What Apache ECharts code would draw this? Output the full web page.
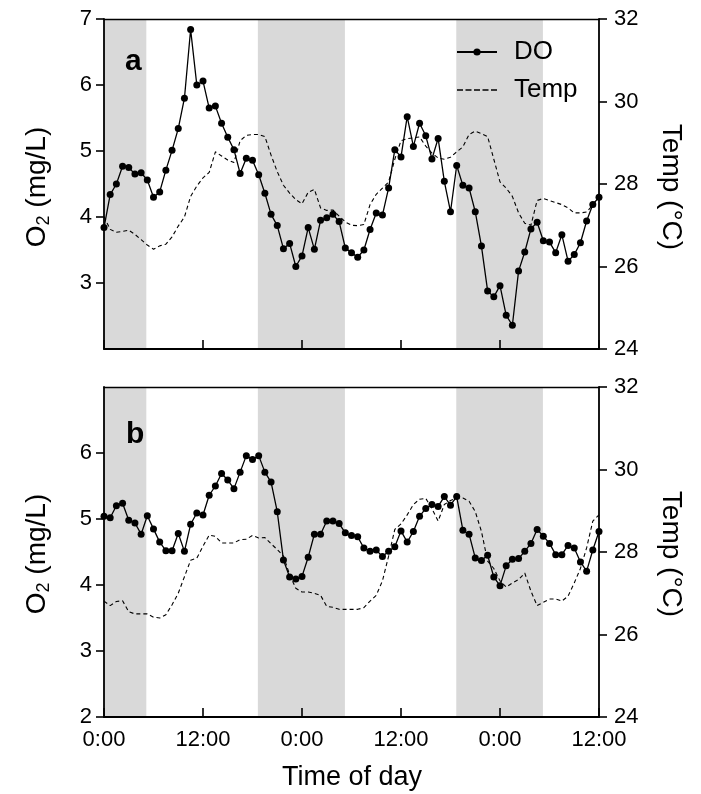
<!DOCTYPE html>
<html><head><meta charset="utf-8">
<script src="https://cdn.jsdelivr.net/npm/echarts@6/dist/echarts.min.js"></script>
<style>html,body{margin:0;padding:0;background:#fff}#c{width:701px;height:794px}</style>
</head><body><div id="c"></div>
<script>
// time of each sample, hours from start (0:00)
const hours = [0,0.75,1.5,2.25,3,3.75,4.5,5.25,6,6.75,7.5,8.25,9,9.75,10.5,11.25,12,12.75,13.5,14.25,15,15.75,16.5,17.25,18,18.75,19.5,20.25,21,21.75,22.5,23.25,24,24.75,25.5,26.25,27,27.75,28.5,29.25,30,30.75,31.5,32.25,33,33.75,34.5,35.25,36,36.75,37.5,38.25,39,39.75,40.5,41.25,42,42.75,43.5,44.25,45,45.75,46.5,47.25,48,48.75,49.5,50.25,51,51.75,52.5,53.25,54,54.75,55.5,56.25,57,57.75,58.5,59.25,60];

// panel a
const doA = [3.84,4.34,4.50,4.77,4.75,4.65,4.67,4.56,4.30,4.38,
  4.71,5.01,5.34,5.80,6.84,6.00,6.06,5.65,5.68,5.42,
  5.21,5.02,4.66,4.89,4.86,4.64,4.36,4.04,3.87,3.52,
  3.60,3.25,3.41,3.84,3.51,3.95,3.99,4.04,3.93,3.53,
  3.46,3.39,3.50,3.81,4.06,4.03,4.44,5.02,4.91,5.52,
  5.07,5.42,5.23,4.88,5.19,4.54,4.08,4.78,4.48,4.44,
  4.08,3.56,2.88,2.79,2.96,2.51,2.36,3.18,3.47,3.82,
  3.92,3.64,3.62,3.46,3.73,3.33,3.43,3.61,3.94,4.19,4.30];
const tempA = [27.21,26.90,26.83,26.85,26.88,26.78,26.65,26.52,26.42,26.50,
  26.54,26.72,26.98,27.20,27.70,27.95,28.15,28.28,28.78,28.68,
  28.58,28.52,29.05,29.18,29.20,29.20,29.15,28.70,28.30,27.97,
  27.78,27.62,27.52,27.80,27.87,27.42,27.36,27.37,27.22,27.08,
  27.00,26.99,27.02,27.50,27.75,27.90,28.05,28.60,29.05,29.10,
  29.12,29.14,28.92,28.75,28.63,28.60,28.65,28.78,28.90,29.20,
  29.28,29.22,29.15,28.60,28.05,27.90,27.70,27.30,27.05,27.00,
  27.60,27.65,27.60,27.55,27.50,27.42,27.30,27.30,27.32,27.49,27.69];

// panel b
const doB = [5.04,5.02,5.20,5.24,4.98,4.94,4.77,5.05,4.85,4.65,
  4.52,4.52,4.78,4.51,4.92,5.09,5.06,5.36,5.50,5.69,
  5.59,5.46,5.71,5.96,5.90,5.96,5.71,5.56,5.11,4.38,
  4.12,4.09,4.13,4.42,4.77,4.77,4.97,4.97,4.93,4.79,
  4.75,4.73,4.56,4.51,4.53,4.43,4.51,4.58,4.82,4.65,
  4.81,5.04,5.16,5.22,5.19,5.34,5.21,5.34,4.83,4.77,
  4.41,4.37,4.45,4.12,3.99,4.29,4.39,4.40,4.51,4.63,
  4.84,4.74,4.63,4.46,4.46,4.60,4.56,4.35,4.21,4.53,4.81];
const tempB = [26.81,26.70,26.80,26.82,26.55,26.50,26.50,26.50,26.42,26.40,
  26.48,26.72,27.00,27.40,27.80,27.85,28.14,28.41,28.38,28.22,
  28.22,28.22,28.30,28.31,28.40,28.34,28.35,28.20,28.06,27.90,
  27.45,27.12,27.03,27.03,27.00,26.95,26.68,26.66,26.61,26.61,
  26.61,26.61,26.65,26.81,26.95,27.30,27.90,28.55,28.68,28.90,
  29.15,29.28,29.30,29.05,28.75,29.15,29.25,29.31,29.31,29.23,
  28.98,28.50,27.78,27.60,27.30,27.15,27.25,27.33,27.49,27.05,
  26.70,26.78,26.86,26.86,26.81,26.93,27.25,27.60,28.10,28.75,28.90];

// night periods (hours)
const nightStart = [0, 18.65, 42.7];
const nightEnd = [5.13, 29.2, 53.2];

// ticks
const xTicks = [0, 12, 24, 36, 48, 60];
const xTickLabels = ['0:00', '12:00', '0:00', '12:00', '0:00', '12:00'];
const o2TicksA = [3, 4, 5, 6, 7];
const o2TicksB = [2, 3, 4, 5, 6];
const tempTicks = [24, 26, 28, 30, 32];

const FONT = "'Liberation Sans', Arial, Helvetica, sans-serif";
const BLACK = '#000';
// dashed legend icon for the temperature series
const DASH_ICON = 'path://M0,0h6v1.5h-6z M8.5,0h6v1.5h-6z M17,0h6v1.5h-6z M25.5,0h6v1.5h-6z M34,0h6v1.5h-6z';

const chart = echarts.init(document.getElementById('c'), null, {renderer: 'canvas'});

function bottomX(grid, showLabels) {
  return {
    gridIndex: grid, type: 'value', min: 0, max: 60, interval: 12, position: 'bottom', z: 3,
    axisLine: {show: true, onZero: false, lineStyle: {color: BLACK, width: 1.8}},
    axisTick: {show: true, inside: true, length: 9, lineStyle: {color: BLACK, width: 1.6}},
    axisLabel: {show: showLabels, fontSize: 22, fontFamily: FONT, color: BLACK, margin: 12,
      formatter: v => { const k = xTicks.indexOf(v); return k >= 0 ? xTickLabels[k] : ''; }},
    splitLine: {show: false}
  };
}
function topX(grid) {
  return {
    gridIndex: grid, type: 'value', min: 0, max: 60, position: 'top', z: 3,
    axisLine: {show: true, onZero: false, lineStyle: {color: BLACK, width: 1.3}},
    axisTick: {show: false}, axisLabel: {show: false}, splitLine: {show: false}
  };
}
function leftY(grid, ticks) {
  return {
    gridIndex: grid, type: 'value', min: 2, max: 7, interval: 1, position: 'left', z: 3,
    axisLine: {show: true, onZero: false, lineStyle: {color: BLACK, width: 1.8}},
    axisTick: {show: true, length: 8, customValues: ticks, lineStyle: {color: BLACK, width: 1.6}},
    axisLabel: {customValues: ticks, fontSize: 22, fontFamily: FONT, color: BLACK, margin: 12},
    splitLine: {show: false}
  };
}
function rightY(grid) {
  return {
    gridIndex: grid, type: 'value', min: 24, max: 32, interval: 2, position: 'right', z: 3,
    axisLine: {show: true, onZero: false, lineStyle: {color: BLACK, width: 1.8}},
    axisTick: {show: true, length: 8, customValues: tempTicks, lineStyle: {color: BLACK, width: 1.6}},
    axisLabel: {customValues: tempTicks, fontSize: 22, fontFamily: FONT, color: BLACK, margin: 15},
    splitLine: {show: false}
  };
}
function doSeries(xi, yi, vals) {
  return {
    name: 'DO', type: 'line', xAxisIndex: xi, yAxisIndex: yi, z: 4,
    data: hours.map((h, k) => [h, vals[k]]),
    symbol: 'circle', symbolSize: 7, showAllSymbol: true,
    lineStyle: {color: BLACK, width: 1.3}, itemStyle: {color: BLACK},
    animation: false,
    markArea: {silent: true, itemStyle: {color: '#d9d9d9'},
      data: nightStart.map((s, k) => [{xAxis: s}, {xAxis: nightEnd[k]}])}
  };
}
function tempSeries(xi, yi, vals) {
  return {
    name: 'Temp', type: 'line', xAxisIndex: xi, yAxisIndex: yi, z: 4,
    data: hours.map((h, k) => [h, vals[k]]),
    symbol: 'none', lineStyle: {color: BLACK, width: 1.1, type: [4, 3]},
    itemStyle: {color: BLACK}, animation: false
  };
}

function leftTitle(y) {
  return {type: 'text', x: 37, y: y, rotation: Math.PI / 2, z: 10,
    style: {text: '{a|O}{s|2}{a| (mg/L)}', align: 'center', verticalAlign: 'middle',
      rich: {a: {fontSize: 28, fontFamily: FONT, fill: BLACK, color: BLACK},
             s: {fontSize: 18, fontFamily: FONT, fill: BLACK, color: BLACK, padding: [15, 0, 0, 0]}}}};
}
function rightTitle(y) {
  return {type: 'text', x: 671, y: y, rotation: -Math.PI / 2, z: 10,
    style: {text: 'Temp (°C)', align: 'center', verticalAlign: 'middle',
      font: '28px ' + FONT, fill: BLACK}};
}

chart.setOption({
  animation: false,
  backgroundColor: '#fff',
  grid: [
    {left: 104, right: 102, top: 19, height: 330},
    {left: 104, right: 102, top: 387, height: 330}
  ],
  xAxis: [bottomX(0, false), topX(0), bottomX(1, true), topX(1)],
  yAxis: [leftY(0, o2TicksA), rightY(0), leftY(1, o2TicksB), rightY(1)],
  legend: {
    data: [{name: 'DO'}, {name: 'Temp', icon: DASH_ICON}],
    orient: 'vertical', left: 451, top: 34,
    itemWidth: 40, itemHeight: 9, itemGap: 12,
    textStyle: {fontSize: 26, fontFamily: FONT, color: BLACK, padding: [0, 0, 0, 12]}
  },
  series: [
    doSeries(0, 0, doA), tempSeries(0, 1, tempA),
    doSeries(2, 2, doB), tempSeries(2, 3, tempB)
  ],
  graphic: [
    {type: 'text', x: 125, y: 62, z: 10, style: {text: 'a', font: 'bold 30px ' + FONT, fill: BLACK, verticalAlign: 'middle'}},
    {type: 'text', x: 126, y: 435, z: 10, style: {text: 'b', font: 'bold 30px ' + FONT, fill: BLACK, verticalAlign: 'middle'}},
    leftTitle(187), leftTitle(554),
    rightTitle(187), rightTitle(554),
    {type: 'text', x: 352, y: 778, z: 10, style: {text: 'Time of day', align: 'center', verticalAlign: 'middle', font: '27px ' + FONT, fill: BLACK}}
  ]
});
</script></body></html>
